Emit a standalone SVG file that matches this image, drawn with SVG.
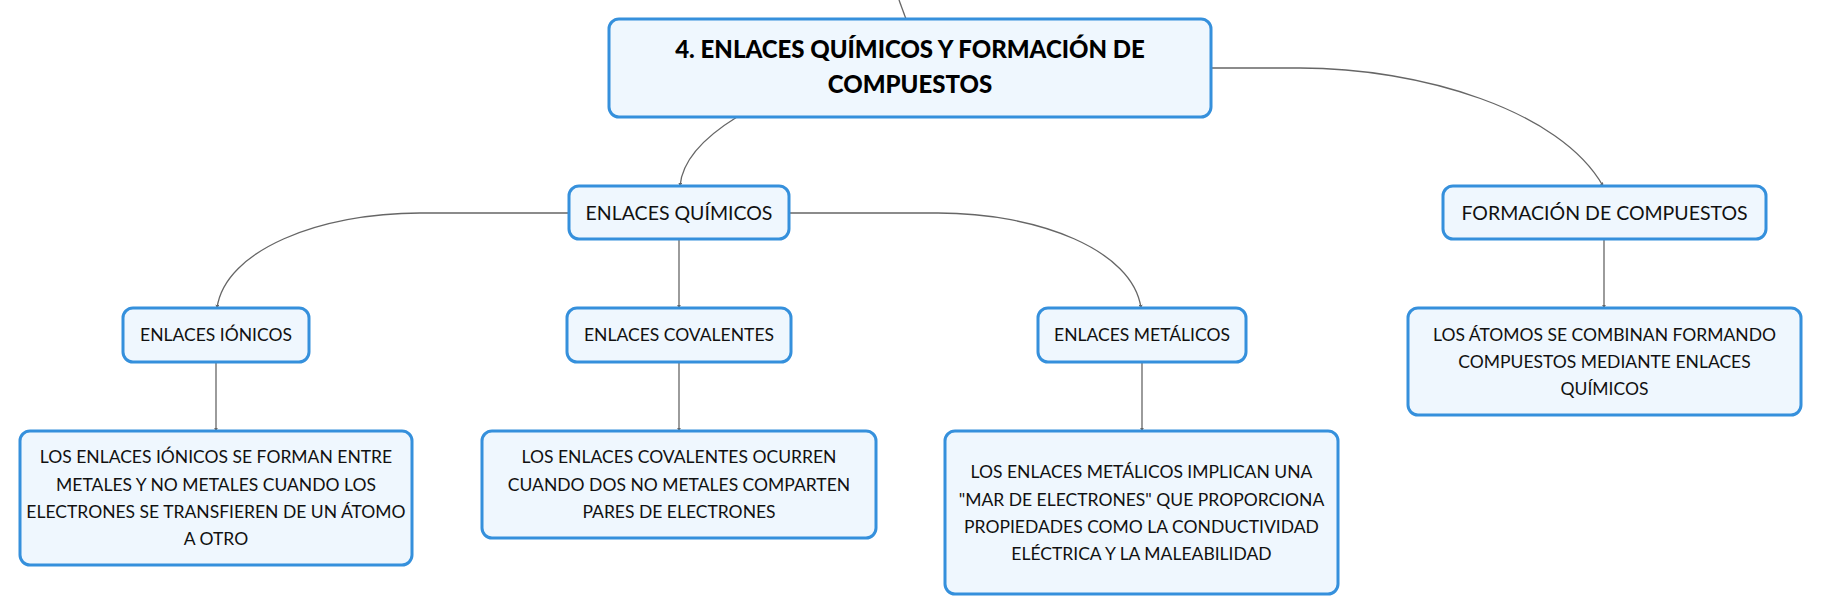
<svg xmlns="http://www.w3.org/2000/svg" width="1821" height="615" viewBox="0 0 1821 615">
<style>
.box{fill:#eff7fe;stroke:#3590dc;stroke-width:3}
.t{font-family:Lato,"Noto Sans",sans-serif;font-size:17.5px;fill:#111;text-anchor:middle}
.t1{font-family:Lato,"Noto Sans",sans-serif;font-size:19.5px;fill:#111;text-anchor:middle}
.h{font-family:Lato,"Noto Sans",sans-serif;font-size:24px;font-weight:900;fill:#000;text-anchor:middle}
.c{fill:none;stroke:#666;stroke-width:1.3}
</style>
<defs>
<marker id="a" viewBox="0 0 6 6" refX="5" refY="3" markerWidth="4" markerHeight="4" orient="auto" markerUnits="userSpaceOnUse">
<path d="M0,0 L6,3 L0,6 z" fill="#666"/>
</marker>
</defs>
<rect width="1821" height="615" fill="#fff"/>
<g id="connectors">
<path class="c" d="M899,0 L906,19"/>
<path class="c" d="M737,117 C703,138 682,162 680,186" marker-end="url(#a)"/>
<path class="c" d="M1211,68 L1300,68 C1420,68 1560,110 1603,186" marker-end="url(#a)"/>
<path class="c" d="M569,213 L420,213 C320,213 225,250 217,308" marker-end="url(#a)"/>
<path class="c" d="M789,213 L938,213 C1038,213 1133,250 1141,308" marker-end="url(#a)"/>
<path class="c" d="M679,239 L679,308" marker-end="url(#a)"/>
<path class="c" d="M1604,239 L1604,308" marker-end="url(#a)"/>
<path class="c" d="M216,362 L216,431" marker-end="url(#a)"/>
<path class="c" d="M679,362 L679,431" marker-end="url(#a)"/>
<path class="c" d="M1142,362 L1142,431" marker-end="url(#a)"/>
</g>
<g id="main">
<rect class="box" x="609" y="19" width="602" height="98" rx="10"/>
<text class="h" x="910" y="58">4. ENLACES QUÍMICOS Y FORMACIÓN DE</text>
<text class="h" x="910" y="93">COMPUESTOS</text>
</g>
<g id="enlaces-quimicos">
<rect class="box" x="569" y="186" width="220" height="53" rx="10"/>
<text class="t1" x="679" y="219.5">ENLACES QUÍMICOS</text>
</g>
<g id="formacion">
<rect class="box" x="1443" y="186" width="323" height="53" rx="10"/>
<text class="t1" x="1604.5" y="219.5">FORMACIÓN DE COMPUESTOS</text>
</g>
<g id="ionicos">
<rect class="box" x="123" y="308" width="186" height="54" rx="10"/>
<text class="t" x="216" y="341">ENLACES IÓNICOS</text>
</g>
<g id="covalentes">
<rect class="box" x="567" y="308" width="224" height="54" rx="10"/>
<text class="t" x="679" y="341">ENLACES COVALENTES</text>
</g>
<g id="metalicos">
<rect class="box" x="1038" y="308" width="208" height="54" rx="10"/>
<text class="t" x="1142" y="341">ENLACES METÁLICOS</text>
</g>
<g id="atomos">
<rect class="box" x="1408" y="308" width="393" height="107" rx="10"/>
<text class="t" x="1604.5" y="340.5">LOS ÁTOMOS SE COMBINAN FORMANDO</text>
<text class="t" x="1604.5" y="367.5">COMPUESTOS MEDIANTE ENLACES</text>
<text class="t" x="1604.5" y="394.5">QUÍMICOS</text>
</g>
<g id="ionicos-desc">
<rect class="box" x="20" y="431" width="392" height="134" rx="10"/>
<text class="t" x="216" y="463">LOS ENLACES IÓNICOS SE FORMAN ENTRE</text>
<text class="t" x="216" y="490.5">METALES Y NO METALES CUANDO LOS</text>
<text class="t" x="216" y="517.5">ELECTRONES SE TRANSFIEREN DE UN ÁTOMO</text>
<text class="t" x="216" y="545">A OTRO</text>
</g>
<g id="covalentes-desc">
<rect class="box" x="482" y="431" width="394" height="107" rx="10"/>
<text class="t" x="679" y="463">LOS ENLACES COVALENTES OCURREN</text>
<text class="t" x="679" y="490.5">CUANDO DOS NO METALES COMPARTEN</text>
<text class="t" x="679" y="517.5">PARES DE ELECTRONES</text>
</g>
<g id="metalicos-desc">
<rect class="box" x="945" y="431" width="393" height="163" rx="10"/>
<text class="t" x="1141.5" y="478">LOS ENLACES METÁLICOS IMPLICAN UNA</text>
<text class="t" x="1141.5" y="505.5">"MAR DE ELECTRONES" QUE PROPORCIONA</text>
<text class="t" x="1141.5" y="532.5">PROPIEDADES COMO LA CONDUCTIVIDAD</text>
<text class="t" x="1141.5" y="560">ELÉCTRICA Y LA MALEABILIDAD</text>
</g>
</svg>
